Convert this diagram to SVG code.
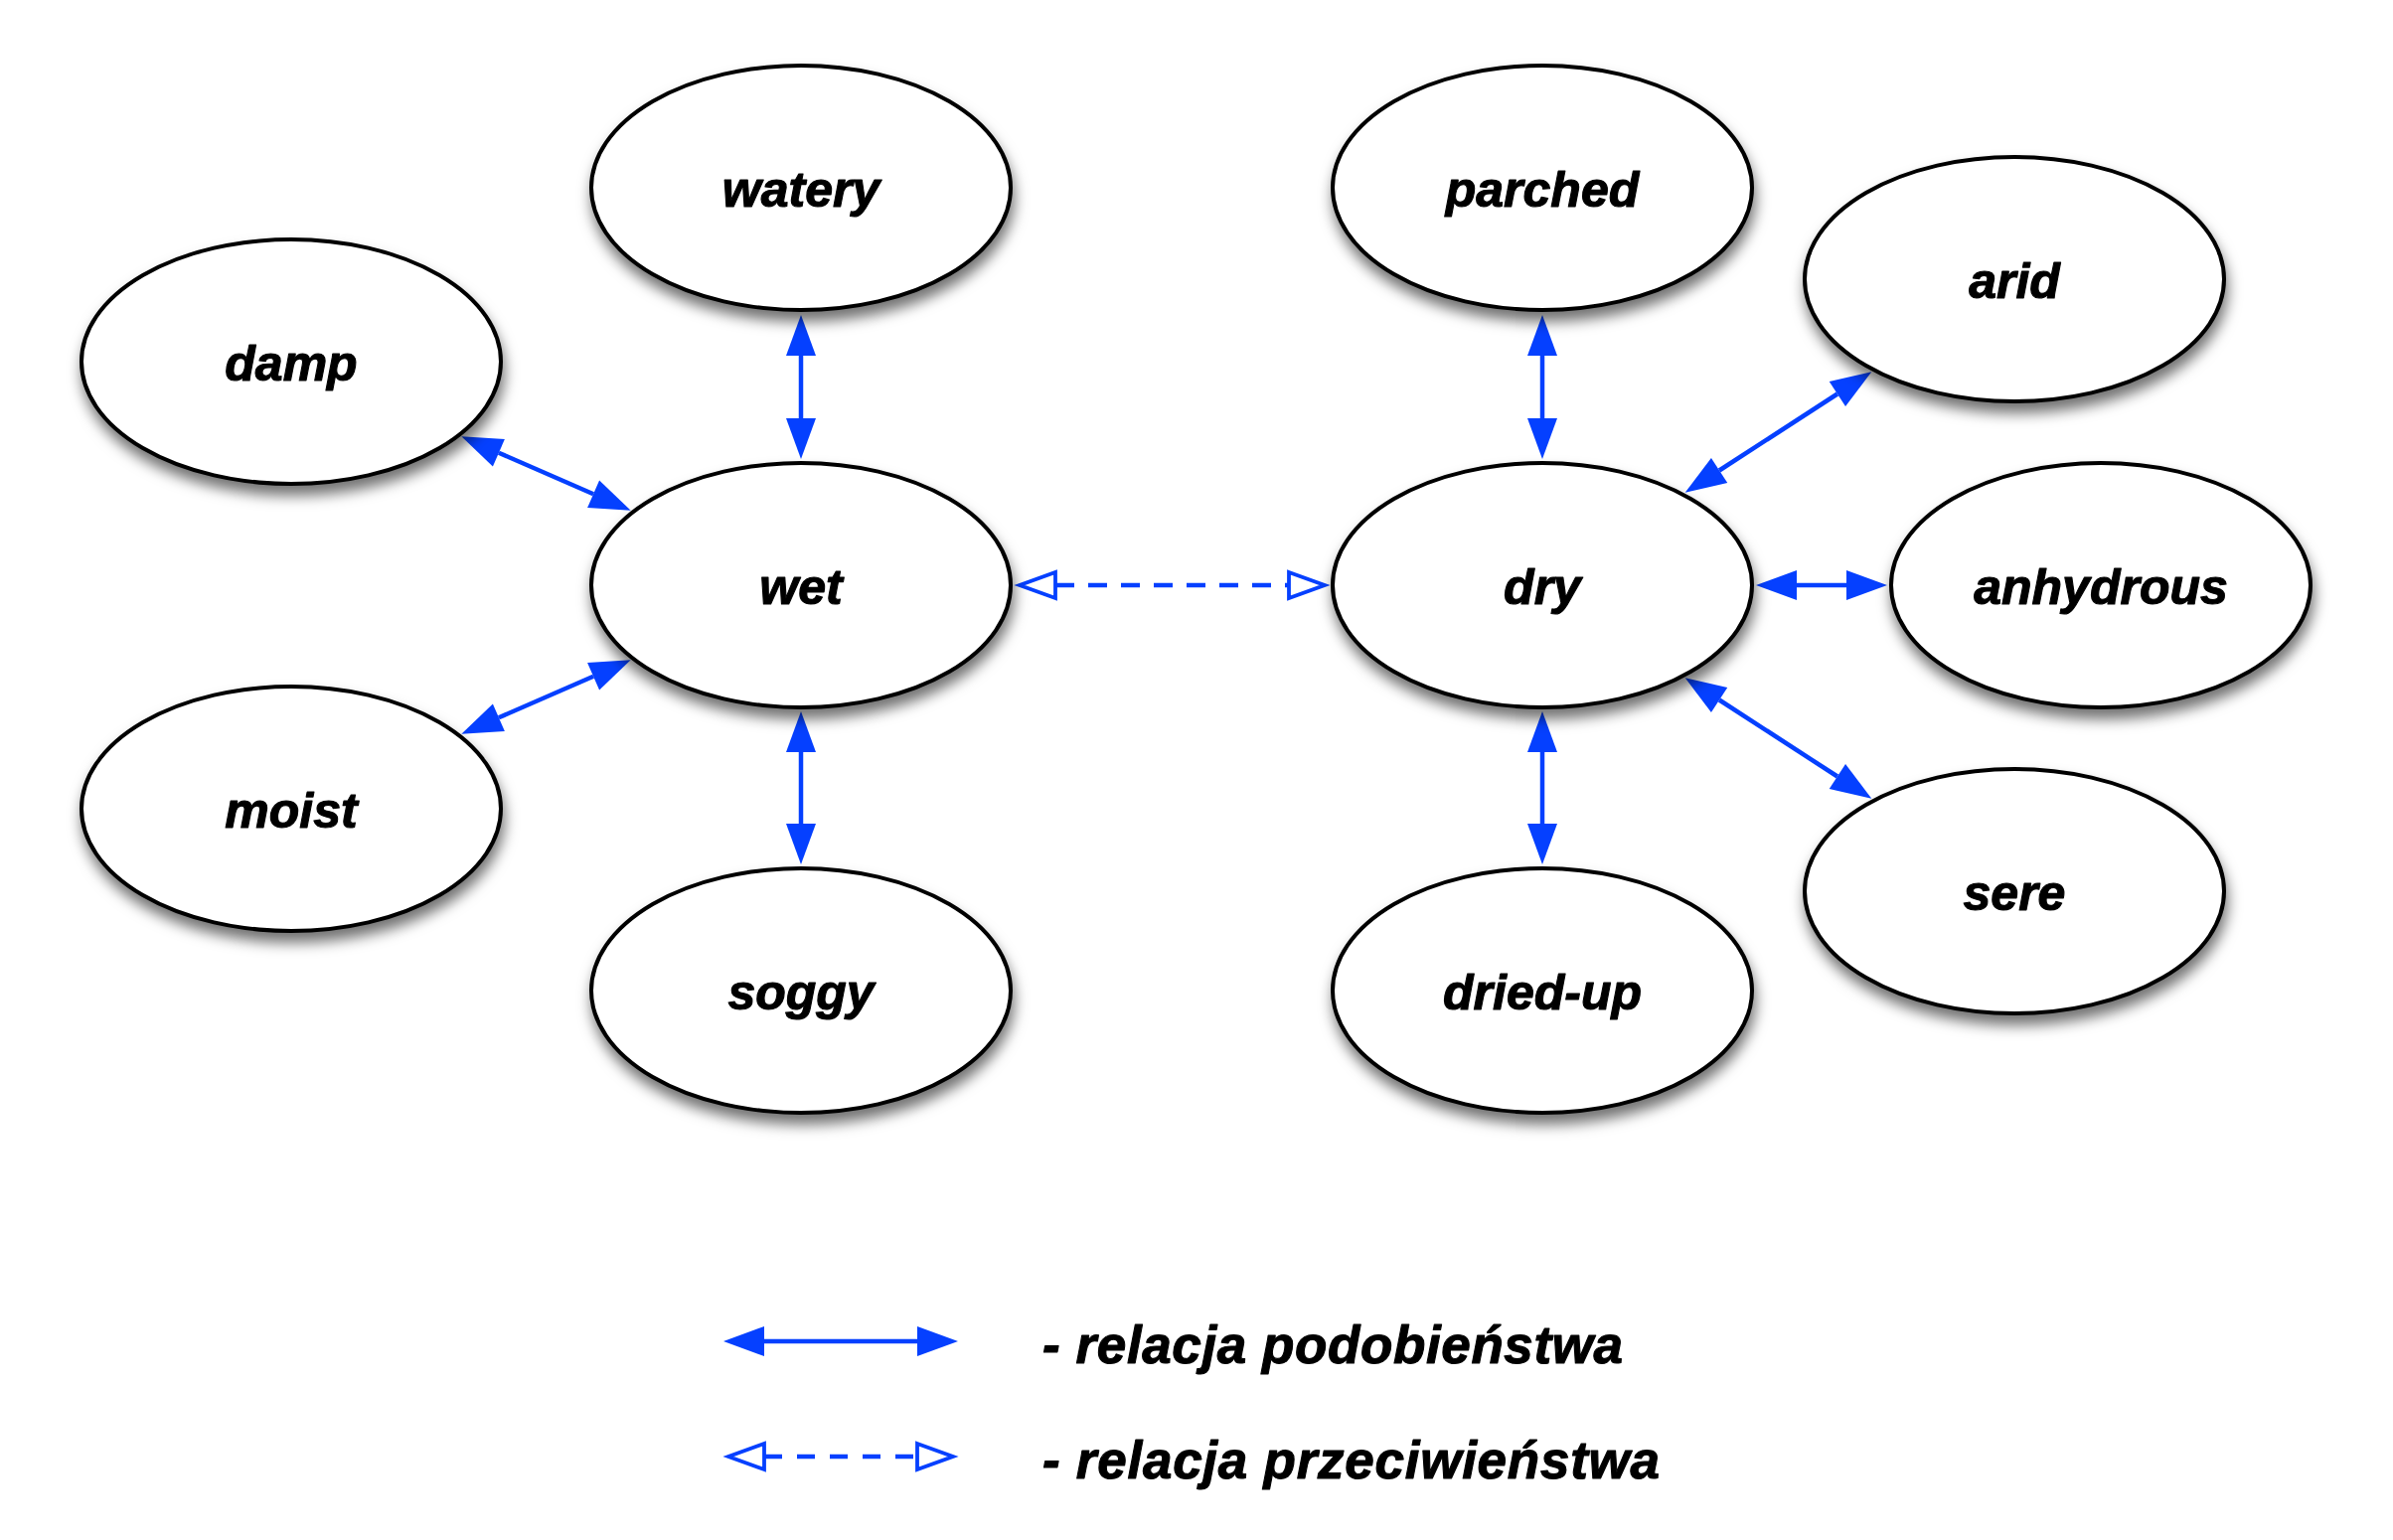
<svg xmlns="http://www.w3.org/2000/svg" width="2408" height="1550" viewBox="0 0 2408 1550">
<defs>
<style>
.node ellipse{fill:#fff;stroke:#000;stroke-width:4;filter:url(#sh)}
.node text,.legend text{font-family:"Liberation Sans",Arial,Helvetica,sans-serif;font-weight:bold;font-style:italic;fill:#000;stroke:#000;stroke-width:1.1;stroke-linejoin:round}
.node text{font-size:50px;text-anchor:middle}
.legend text{font-size:53px}
.sim{stroke:#0540ff;stroke-width:4.5;fill:none;marker-start:url(#fa);marker-end:url(#fa)}
.opp{stroke:#0540ff;stroke-width:4.5;fill:none;stroke-dasharray:19 14;marker-start:url(#oa);marker-end:url(#oa)}
</style>
<filter id="sh" x="-20%" y="-20%" width="140%" height="150%">
<feDropShadow dx="2" dy="10" stdDeviation="7" flood-color="#000" flood-opacity="0.55"/>
</filter>
<marker id="fa" markerUnits="userSpaceOnUse" markerWidth="42" markerHeight="32" viewBox="0 0 42 32" refX="0" refY="16" orient="auto-start-reverse" overflow="visible">
<path d="M0,1 L41,16 L0,31 z" fill="#0540ff"/>
</marker>
<marker id="oa" markerUnits="userSpaceOnUse" markerWidth="42" markerHeight="32" viewBox="0 0 42 32" refX="2" refY="16" orient="auto-start-reverse" overflow="visible">
<path d="M2,3 L38,16 L2,29 z" fill="#fff" stroke="#0540ff" stroke-width="3.8" stroke-linejoin="miter"/>
</marker>
</defs>
<rect width="2408" height="1550" fill="#fff"/>

<g id="connectors">
<line class="sim" x1="806" y1="358" x2="806" y2="421"/>
<line class="sim" x1="806" y1="757" x2="806" y2="829"/>
<line class="sim" x1="501.9" y1="455.7" x2="597.1" y2="497.3"/>
<line class="sim" x1="501.9" y1="722.3" x2="597.1" y2="680.7"/>
<line class="sim" x1="1552" y1="358" x2="1552" y2="421"/>
<line class="sim" x1="1552" y1="757" x2="1552" y2="829"/>
<line class="sim" x1="1730.1" y1="473.5" x2="1848.9" y2="396.5"/>
<line class="sim" x1="1730.1" y1="704.5" x2="1848.9" y2="781.5"/>
<line class="sim" x1="1808" y1="589" x2="1858" y2="589"/>
<line class="opp" x1="1062" y1="589" x2="1297" y2="589"/>
</g>

<g id="node-watery" class="node"><ellipse cx="806" cy="189" rx="211" ry="123"/><text x="806" y="208">watery</text></g>
<g id="node-wet" class="node"><ellipse cx="806" cy="589" rx="211" ry="123"/><text x="806" y="608">wet</text></g>
<g id="node-soggy" class="node"><ellipse cx="806" cy="997" rx="211" ry="123"/><text x="806" y="1016">soggy</text></g>
<g id="node-damp" class="node"><ellipse cx="293" cy="364" rx="211" ry="123"/><text x="293" y="383">damp</text></g>
<g id="node-moist" class="node"><ellipse cx="293" cy="814" rx="211" ry="123"/><text x="293" y="833">moist</text></g>
<g id="node-parched" class="node"><ellipse cx="1552" cy="189" rx="211" ry="123"/><text x="1552" y="208">parched</text></g>
<g id="node-dry" class="node"><ellipse cx="1552" cy="589" rx="211" ry="123"/><text x="1552" y="608">dry</text></g>
<g id="node-dried-up" class="node"><ellipse cx="1552" cy="997" rx="211" ry="123"/><text x="1552" y="1016">dried-up</text></g>
<g id="node-arid" class="node"><ellipse cx="2027" cy="281" rx="211" ry="123"/><text x="2027" y="300">arid</text></g>
<g id="node-anhydrous" class="node"><ellipse cx="2114" cy="589" rx="211" ry="123"/><text x="2114" y="608">anhydrous</text></g>
<g id="node-sere" class="node"><ellipse cx="2027" cy="897" rx="211" ry="123"/><text x="2027" y="916">sere</text></g>

<g id="legend" class="legend">
<line class="sim" x1="769" y1="1350" x2="923" y2="1350"/>
<line class="opp" x1="769" y1="1466" x2="923" y2="1466" style="stroke-dasharray:18 15"/>
<text x="1049" y="1372" textLength="584">- relacja podobieństwa</text>
<text x="1049" y="1488" textLength="621">- relacja przeciwieństwa</text>
</g>
</svg>
